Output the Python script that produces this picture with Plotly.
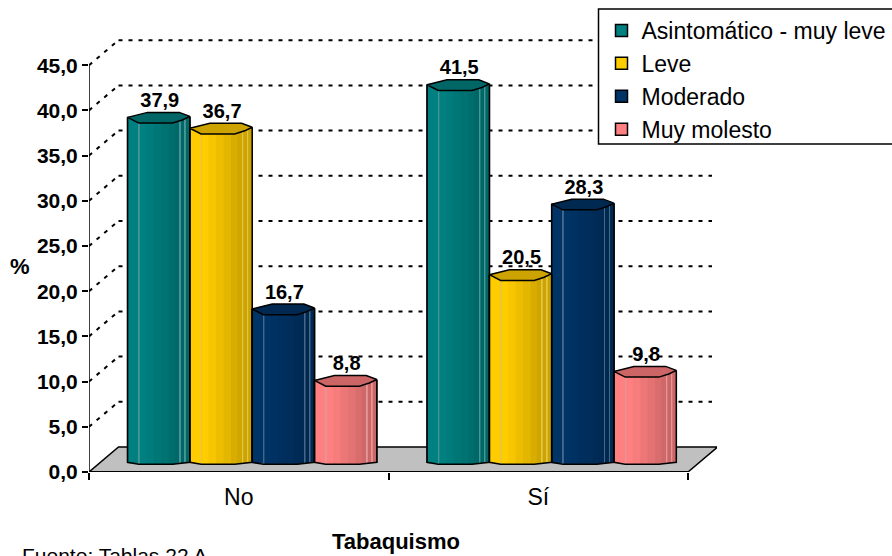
import numpy as np
import plotly.graph_objects as go

categories = ["No", "Sí"]
series_names = ["Asintomático - muy leve", "Leve", "Moderado", "Muy molesto"]
asintomatico = [37.9, 41.5]
leve = [36.7, 20.5]
moderado = [16.7, 28.3]
muy_molesto = [8.8, 9.8]
series_values = [asintomatico, leve, moderado, muy_molesto]
colors = [(0, 128, 128), (255, 204, 0), (0, 51, 102), (255, 128, 128)]
y_ticks = [0, 5, 10, 15, 20, 25, 30, 35, 40, 45]

PX_X = 299.5
PX_Y = 9.04
DX = 29.5 / PX_X
DY = 25 / PX_Y
X_MAX = 628 / PX_X
PLOT_H = 436
Y_MAX = PLOT_H / PX_Y
GRID_END = 623 / PX_X
GROUP_START = 38.6 / PX_X
BAR_W = 62.3 / PX_X
TOP_OFF = 12 / PX_Y
SIDE_OFF = 9.7 / PX_Y
FONT = "Liberation Sans"


def shade(rgb, f):
    return "rgb(%d,%d,%d)" % tuple(int(round(c * f)) for c in rgb)


def lighten(rgb, t):
    return "rgb(%d,%d,%d)" % tuple(int(round(c * 0.85 + (255 - c * 0.85) * t)) for c in rgb)


edges = np.array([0, .18, .196, .30, .42, .54, .66, .76, .84, .856, .92, .936, 1])
factors = [1, None, 1, .97, .93, .89, .85, .81, None, .8, None, .8]
bottom_frac = [0, .18, .72, 1]
bottom_px = [0, 2, 2, 0]

traces = []
polys = []
labels = []
for s, (name, vals, col) in enumerate(zip(series_names, series_values, colors)):
    vals = np.array(vals, float)
    groups = np.arange(len(vals))
    offs = GROUP_START + s * BAR_W
    # the real bar, gives the legend entry
    traces.append(go.Bar(x=groups, y=vals + TOP_OFF - SIDE_OFF, base=SIDE_OFF, width=BAR_W,
                         offset=offs, name=name, legendgroup=name,
                         marker=dict(color=shade(col, 1), line=dict(color="black", width=1.5))))
    for i in range(len(edges) - 1):
        mid = (edges[i] + edges[i + 1]) / 2
        drop = np.interp(mid, bottom_frac, bottom_px) / PX_Y
        c = lighten(col, .28) if factors[i] is None else shade(col, factors[i])
        w = (edges[i + 1] - edges[i]) * BAR_W
        if i < len(edges) - 2 and factors[i + 1] is not None and factors[i] is not None:
            w += 0.6 / PX_X
        traces.append(go.Bar(x=groups, y=vals + TOP_OFF - SIDE_OFF + drop, base=SIDE_OFF - drop, width=w,
                             offset=offs + edges[i] * BAR_W, showlegend=False, legendgroup=name, hoverinfo="skip",
                             marker=dict(color=c, line=dict(width=0))))
    for g, v in zip(groups, vals):
        left = g + offs
        top = v + TOP_OFF
        fr_cap = np.array([0, .08, .32, .83, .95, 1, .88, .72, .18, .07, 0])
        dy_cap = np.array([0, 1.2, 5, 5, 2.6, 1, -2.6, -5.7, -5.7, -2.2, 0]) / PX_Y
        polys.append(go.Scatter(x=left + fr_cap * BAR_W, y=top + dy_cap, mode="lines", fill="toself",
                                fillcolor=shade(col, .8), line=dict(color="black", width=1.5),
                                showlegend=False, hoverinfo="skip", cliponaxis=False))
        xs = [left, left, left + .18 * BAR_W, left + .72 * BAR_W, left + BAR_W, left + BAR_W]
        ys = [top, SIDE_OFF, SIDE_OFF - 2 / PX_Y, SIDE_OFF - 2 / PX_Y, SIDE_OFF, top + 1 / PX_Y]
        polys.append(go.Scatter(x=xs, y=ys, mode="lines", line=dict(color="black", width=1.5),
                                showlegend=False, hoverinfo="skip", cliponaxis=False))
    labels.append(go.Scatter(x=groups + offs + BAR_W / 2 + 1 / PX_X, y=vals + TOP_OFF + 5.5 / PX_Y, mode="text",
                             text=[f"{v:.1f}".replace(".", ",") for v in vals], textposition="top center",
                             textfont=dict(family=FONT, size=20, color="black", weight="bold"),
                             showlegend=False, hoverinfo="skip", cliponaxis=False))

shapes = []
# floor
shapes.append(dict(type="path", xref="x", yref="y", layer="below",
                   path=f"M 0 0 L 2 0 L {2 + DX} {DY} L {DX} {DY} Z",
                   fillcolor="#c0c0c0", line=dict(color="black", width=1.5)))
for v in y_ticks[1:]:
    dash = dict(color="black", width=2, dash="4px,6px")
    shapes.append(dict(type="line", xref="x", yref="y", layer="below", x0=DX, x1=GRID_END, y0=v + DY, y1=v + DY, line=dash))
    shapes.append(dict(type="line", xref="x", yref="y", layer="below", x0=0, x1=DX, y0=v, y1=v + DY, line=dash))
# axis lines
shapes.append(dict(type="line", xref="x", yref="y", x0=0, x1=0, y0=0, y1=45, line=dict(color="black", width=1.5)))
shapes.append(dict(type="line", xref="x", yref="y", x0=0, x1=2, y0=0, y1=0, line=dict(color="black", width=2)))
# legend frame (runs off the right edge of the page, as in the reference)
shapes.append(dict(type="rect", xref="paper", yref="paper", layer="above",
                   x0=(598.5 - 89) / 628, x1=(900 - 89) / 628, y0=(472 - 144) / PLOT_H, y1=(472 - 9) / PLOT_H,
                   fillcolor="white", line=dict(color="black", width=1.5)))

fig = go.Figure(traces + polys + labels)
W, H = 892, 556
fig.update_layout(
    width=W, height=H, autosize=False, paper_bgcolor="white", plot_bgcolor="rgba(0,0,0,0)",
    margin=dict(l=89, r=175, t=472 - PLOT_H, b=84, pad=0, autoexpand=False),
    barmode="overlay", separators=",.", shapes=shapes, hovermode=False,
    font=dict(family=FONT, color="black"),
    xaxis=dict(range=[0, X_MAX], tickmode="array", tickvals=[.5, 1.5], ticktext=categories,
               tickfont=dict(family=FONT, size=23), ticks="", ticklabelstandoff=9,
               showgrid=False, zeroline=False, showline=False,
               minor=dict(tickmode="array", tickvals=[0, 1, 2], ticks="outside", ticklen=7,
                          tickwidth=1.5, tickcolor="black", showgrid=False)),
    yaxis=dict(range=[0, Y_MAX], tickmode="array", tickvals=y_ticks, tickformat=".1f",
               tickfont=dict(family=FONT, size=21, weight="bold"), ticks="outside", ticklen=6,
               tickwidth=1.5, tickcolor="black", showgrid=False, zeroline=False, showline=False),
    legend=dict(x=601.5 / W, xref="container", xanchor="left", y=1 - 9 / H, yref="container", yanchor="top",
                bgcolor="rgba(0,0,0,0)", borderwidth=0, entrywidth=280, entrywidthmode="pixels",
                font=dict(family=FONT, size=23, color="black"), traceorder="grouped", tracegroupgap=0),
    annotations=[
        dict(text="%", xref="paper", yref="paper", x=(20 - 89) / 628, y=(472 - 266) / PLOT_H, showarrow=False,
             font=dict(size=22, weight="bold"), xanchor="center", yanchor="middle"),
        dict(text="Tabaquismo", xref="paper", yref="paper", x=(396 - 89) / 628, y=(472 - 541) / PLOT_H, showarrow=False,
             font=dict(size=22, weight="bold"), xanchor="center", yanchor="middle"),
        dict(text="Fuente: Tablas 22 A", xref="paper", yref="paper", x=(20 - 89) / 628, y=(472 - 555) / PLOT_H,
             showarrow=False, font=dict(size=21), xanchor="left", yanchor="middle"),
    ],
)
fig.write_html("out.html", config=dict(displayModeBar=False),
               post_script="document.body.style.margin='0';document.body.style.overflow='hidden';")
